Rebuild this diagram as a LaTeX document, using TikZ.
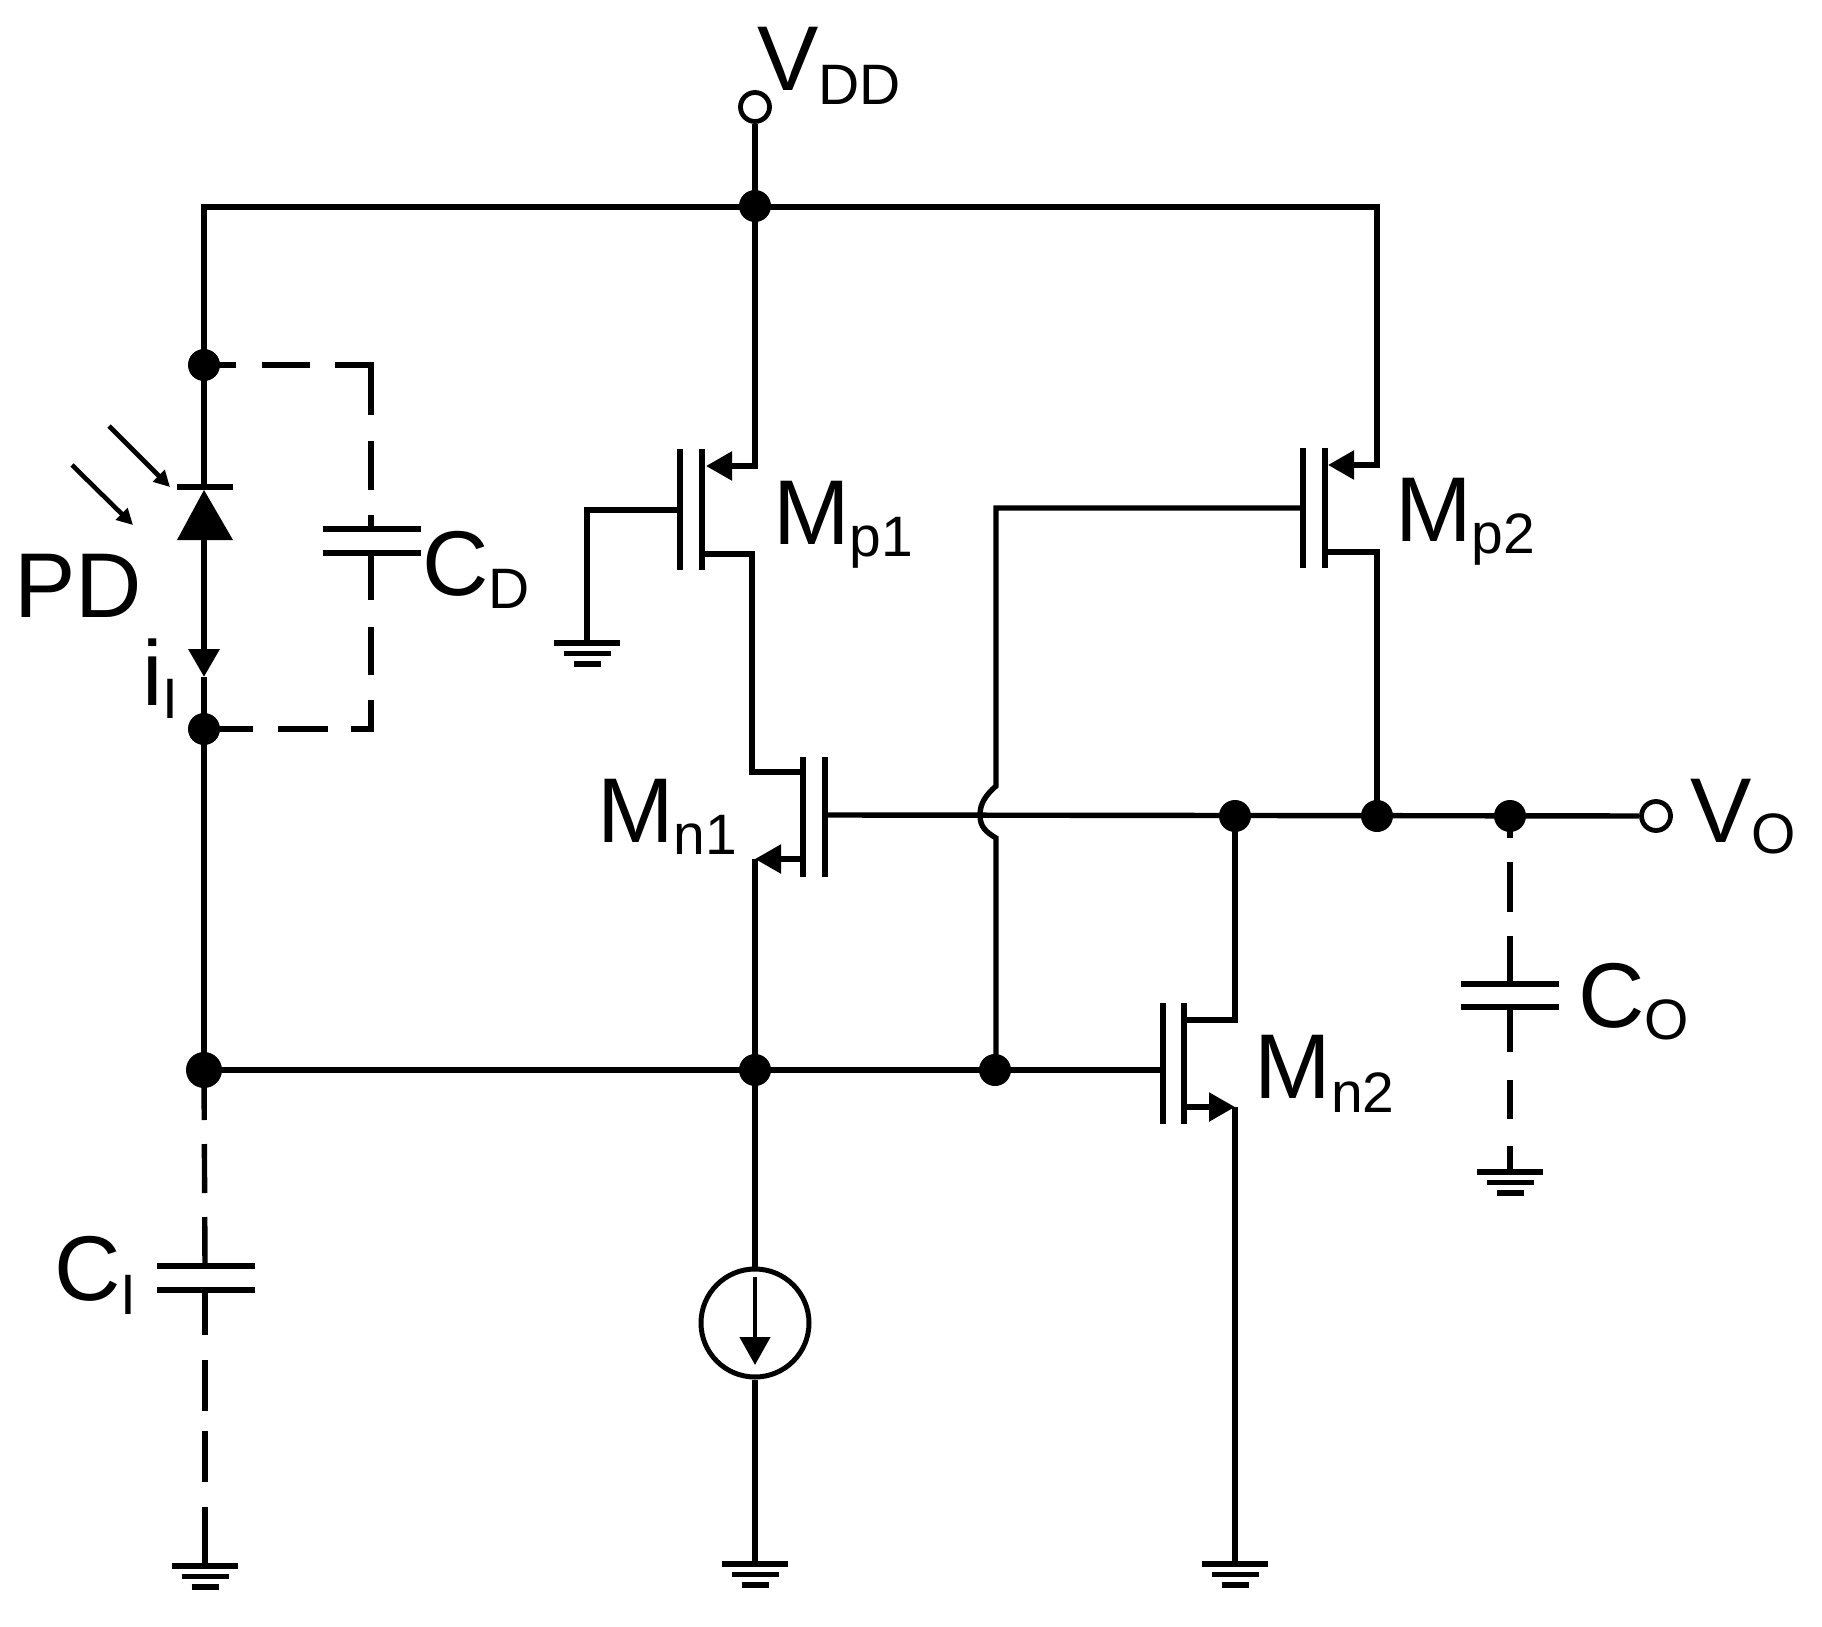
\documentclass[tikz,border=0pt]{standalone}
\usepackage{fontspec}
\setmainfont{Liberation Sans}
\usetikzlibrary{arrows.meta}
\newcommand\mysub[2]{{\fontsize{28.5}{30}\selectfont\raisebox{-#1pt}{#2}}}
\tikzset{
  wire/.style={line width=2.7pt,line join=miter,black},
  thick wire/.style={wire,line width=3pt},
  bar/.style={line width=2.7pt,black},
  plate/.style={line width=2.9pt,black},
  dot/.style={circle,fill=black,draw=none,inner sep=0pt,minimum size=16pt},
  big dot/.style={dot,minimum size=18pt},
  open/.style={circle,fill=white,draw=black,line width=2.4pt,inner sep=0pt,minimum size=14.5pt},
  lbl/.style={inner sep=0pt,outer sep=0pt,anchor=base west,font=\fontsize{46}{50}\selectfont},
  mos tip/.style={-{Triangle[length=13pt,width=14pt]}},
  cur tip/.style={-{Triangle[length=14pt,width=15pt]}},
  light tip/.style={-{Triangle[length=8pt,width=8pt]}},
  gnd/.pic={
    \draw[line width=2.8pt] (-33,0) -- (33,0);
    \draw[line width=2.8pt] (-23.5,10.5) -- (23.5,10.5);
    \draw[line width=2.8pt] (-13.5,21) -- (13.5,21);
  }
}
\begin{document}
\begin{tikzpicture}[x=0.5pt,y=-0.5pt]
\useasboundingbox (0,0) rectangle (1822,1627);

% junctions and terminals
\node[dot] (jvdd) at (755,206) {};
\node[open] (vdd) at (755,107) {};
\node[dot] (jpdt) at (204,365) {};
\node[dot] (jpdb) at (204,729) {};
\node[big dot] (jin) at (204,1070) {};
\node[dot] (jm) at (755,1070) {};
\node[dot] (jg) at (995,1070) {};
\node[dot] (jn2) at (1235,816) {};
\node[dot] (jp2) at (1377,816) {};
\node[dot] (jco) at (1510,816) {};
\node[open] (vo) at (1656,816) {};
\node[draw=black,line width=2.5pt,circle,inner sep=0pt,minimum size=54pt] (src) at (755,1323) {};

% coordinates
\coordinate (tl) at (204,207);
\coordinate (tr) at (1377,207);
\coordinate (p1tip) at (706,466);
\coordinate (p1dr) at (702,554);
\coordinate (p1g) at (680,510);
\coordinate (p1gnd) at (587,643);
\coordinate (n1d) at (803,772);
\coordinate (n1dk) at (752,772);
\coordinate (n1tip) at (755,859);
\coordinate (n1s) at (803,859);
\coordinate (n1g) at (825,815);
\coordinate (p2tip) at (1328,465);
\coordinate (p2dr) at (1325,552);
\coordinate (p2g) at (1303,508);
\coordinate (bu) at (996,786);
\coordinate (bl) at (996,838);
\coordinate (bm) at (980,815);
\coordinate (n2d) at (1184,1020);
\coordinate (n2tip) at (1235,1107);
\coordinate (n2s) at (1184,1107);
\coordinate (n2g) at (1163,1070);
\coordinate (g1) at (755,1564);
\coordinate (g2) at (1235,1564);
\coordinate (g3) at (205,1566);
\coordinate (g4) at (1510,1172);
\coordinate (cdt) at (371,529);
\coordinate (cdb) at (371,553);
\coordinate (cit) at (205,1266);
\coordinate (cib) at (205,1290);
\coordinate (cot) at (1510,984);
\coordinate (cob) at (1510,1007);
\coordinate (pdtip) at (204,677);

% supply rail
\draw[wire] (vdd) -- (jvdd.center);
\draw[wire,line cap=rect] (tl) -- (tr);
\draw[wire] (tl) -- (jpdt.center);

% photodiode branch
\draw[thick wire] (jpdt.center) -- (204,490);
\draw[thick wire,line width=3.2pt] (204,540) -- (204,640);
\draw[thick wire,line width=3.2pt,cur tip] (204,630) -- (pdtip);
\draw[wire] (pdtip) -- (jpdb.center);
\draw[wire] (jpdb.center) -- (jin.center);
\draw[bar] (177,487) -- (233,487);
\fill (177,540) -- (233,540) -- (204,490) -- cycle;
\draw[line width=2.3pt,light tip] (109,426) -- (170,487);
\draw[line width=2.3pt,light tip] (72,465) -- (133,525);

% C_D
\draw[wire,dash pattern=on 16pt off 13pt on 24pt off 12.5pt on 43pt off 13pt on 24.5pt off 12.5pt on 7pt off 100pt]
  (jpdt.center) -| (cdt);
\draw[wire,dash pattern=on 23.5pt off 13.5pt on 24pt off 12.5pt on 24.5pt off 11.5pt on 25pt off 12.5pt on 24.5pt off 100pt]
  (cdb) |- (jpdb.center);
\draw[plate] (323,529) -- (421,529);
\draw[plate] (323,553) -- (421,553);

% bus
\draw[thick wire] (jin.center) -- (n2g);

% M_p1
\draw[wire,mos tip] (jvdd.center) |- (p1tip);
\draw[bar] (680,449) -- (680,570);
\draw[bar] (702,449) -- (702,570);
\draw[wire] (p1g) -| (p1gnd);
\draw[wire] (p1dr) -| (n1dk) -- (n1d);

% M_n1
\draw[bar] (803,757) -- (803,877);
\draw[bar] (825,757) -- (825,877);
\draw[wire,mos tip] (n1s) -- (n1tip);
\draw[wire] (n1tip) -- (jm.center);
\draw[wire] (jm.center) -- (src);
\draw[wire] (src) -- (g1);
\draw[wire] (n1g) -- (vo);
\draw[line width=2.3pt,cur tip] (755,1277) -- (755,1365);

% M_p2
\draw[wire,mos tip] (tr) |- (p2tip);
\draw[bar] (1303,448) -- (1303,568);
\draw[bar] (1325,448) -- (1325,568);
\draw[wire] (p2dr) -| (jp2.center);
\draw[wire] (p2g) -| (bu)
  .. controls (986,795) and (980,803) .. (bm)
  .. controls (980,827) and (986,832) .. (bl) -- (996,1070);

% M_n2
\draw[bar] (1163,1003) -- (1163,1124);
\draw[bar] (1184,1003) -- (1184,1124);
\draw[wire] (jn2.center) |- (n2d);
\draw[wire,mos tip] (n2s) -- (n2tip);
\draw[wire] (n2tip) -- (g2);

% C_O
\draw[wire,dash pattern=on 11pt off 12pt on 25pt off 12pt on 24pt off 100pt] (jco.center) -- (cot);
\draw[wire,dash pattern=on 22.5pt off 14pt on 19.5pt off 13.5pt on 13pt off 100pt] (cob) -- (g4);
\draw[plate,line width=3.2pt] (1461,984) -- (1559,984);
\draw[plate] (1461,1007) -- (1559,1007);

% C_I
\draw[wire,dash pattern=on 25pt off 12pt on 24.5pt off 12pt on 24.5pt off 100pt] (jin.center) -- (cit);
\draw[wire,dash pattern=on 22.5pt off 12.5pt on 25.5pt off 10pt on 25.5pt off 12.5pt on 29.5pt off 100pt] (cib) -- (g3);
\draw[plate] (157,1266) -- (255,1266);
\draw[plate] (157,1290) -- (255,1290);

% grounds
\pic at (p1gnd) {gnd};
\pic at (g1) {gnd};
\pic at (g2) {gnd};
\pic at (g3) {gnd};
\pic at (g4) {gnd};

% labels
\node[lbl] (lpd) at (14,617) {PD};
\node[lbl] (lvdd) at (757,91) {V\mysub{6.5}{DD}};
\node[lbl] (lcd) at (422.5,595) {C\mysub{6.5}{D}};
\node[lbl] (lil) at (142,705) {i\mysub{6.5}{I}};
\node[lbl] (lmp1) at (773,544) {M\mysub{6}{p1}};
\node[lbl] (lmp2) at (1395,541) {M\mysub{6}{p2}};
\node[lbl] (lmn1) at (597,842) {M\mysub{6}{n1}};
\node[lbl] (lmn2) at (1254.5,1098) {M\mysub{7}{n2}};
\node[lbl] (lvo) at (1690,842) {V\mysub{5.5}{O}};
\node[lbl] (lco) at (1578.5,1027) {C\mysub{6}{O}};
\node[lbl] (lci) at (54.5,1300) {C\mysub{7}{I}};
\end{tikzpicture}
\end{document}
